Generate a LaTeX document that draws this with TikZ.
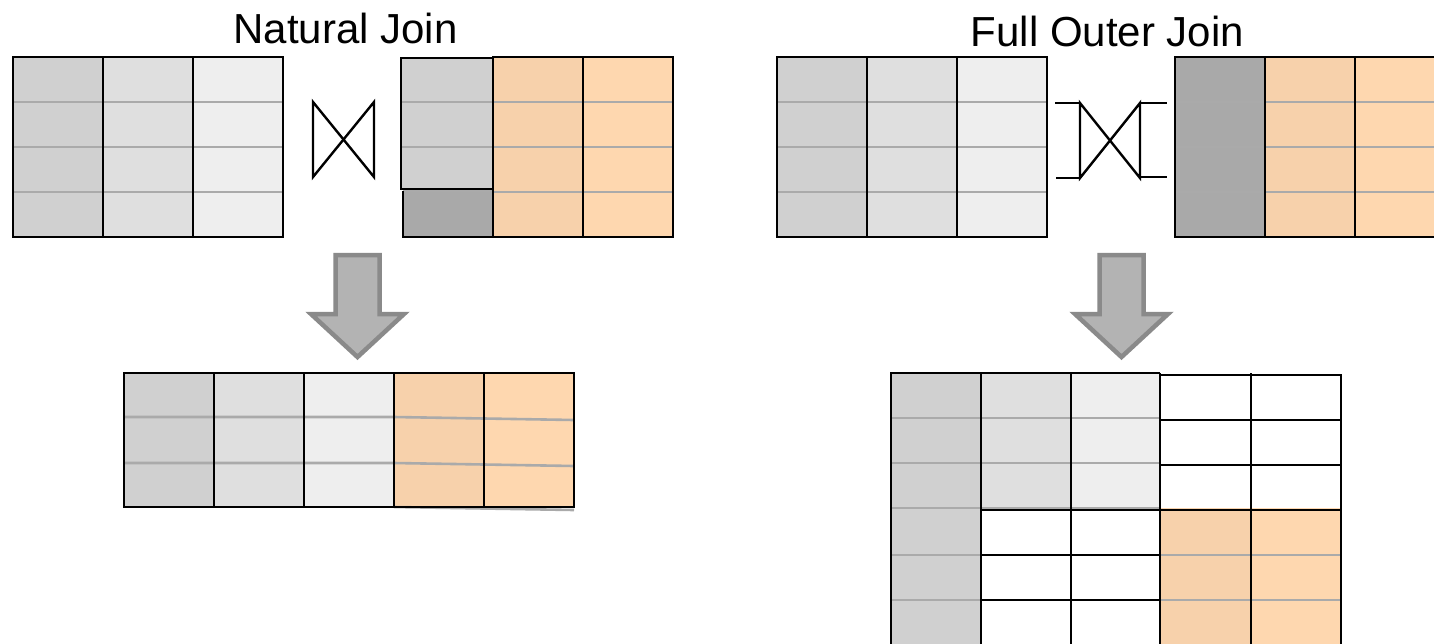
\documentclass[tikz,border=0pt]{standalone}
\usepackage{fontspec}
\setmainfont{Liberation Sans}
\definecolor{gA}{HTML}{D0D0D0}
\definecolor{gB}{HTML}{DFDFDF}
\definecolor{gC}{HTML}{EEEEEE}
\definecolor{gD}{HTML}{A9A9A9}
\definecolor{oA}{HTML}{F7D1AB}
\definecolor{oB}{HTML}{FED7AF}
\definecolor{rowgray}{HTML}{AAAAAA}
\definecolor{arrowfill}{HTML}{B3B3B3}
\definecolor{arrowedge}{HTML}{8A8A8A}
\tikzset{
  rowline/.style={draw=rowgray,line width=2.6pt},
  colline/.style={draw=black,line width=2.4pt},
  bigarrow/.style={fill=arrowfill,draw=arrowedge,line width=4.5pt,line join=miter},
  title/.style={font=\fontsize{42}{50}\selectfont,anchor=base,inner sep=0pt},
  symline/.style={draw=black,line width=2.4pt,line join=miter}
}
\begin{document}
\begin{tikzpicture}[x=1pt,y=-1pt]
\useasboundingbox (0,0) rectangle (1434,643);
\clip (0,0) rectangle (1434,643);
\fill[white] (0,0) rectangle (1434,643);

% titles
\node[title] (t1) at (345.5,43) {Natural Join};
\node[title] (t2) at (1107.5,46) {Full Outer Join};

% ---------- left input table (both panels) ----------
\foreach \dx in {0,764}{
\begin{scope}[shift={(\dx,0)}]
  \fill[gA] (13,57) rectangle (103,237);
  \fill[gB] (103,57) rectangle (193,237);
  \fill[gC] (193,57) rectangle (283,237);
  \foreach \y in {102,147,192} \draw[rowline] (13,\y) -- (283,\y);
  \foreach \x in {103,193} \draw[colline] (\x,57) -- (\x,237);
  \draw[colline] (13,57) rectangle (283,237);
\end{scope}
}

% ---------- natural join symbol ----------
\draw[symline] (313,102) -- (374,177) -- (374,102) -- (313,177) -- cycle;

% ---------- natural join right table ----------
\fill[gA] (401,58) rectangle (493,189);
\fill[gD] (403,190) rectangle (493,237);
\fill[oA] (493,57) rectangle (583,237);
\fill[oB] (583,57) rectangle (673,237);
\foreach \y in {102,147} \draw[rowline] (401,\y) -- (493,\y);
\draw[rowline] (403,191) -- (493,191);
\foreach \y in {102,147,192} \draw[rowline] (493,\y) -- (673,\y);
\draw[colline] (401,58) rectangle (493,189);
\draw[colline] (403,191) -- (403,237) -- (493,237);
\draw[colline] (493,57) rectangle (673,237);
\draw[colline] (583,57) -- (583,237);

% ---------- full outer join symbol ----------
\draw[symline] (1080,103) -- (1140,178) -- (1140,103) -- (1080,178) -- cycle;
\draw[symline] (1055,103) -- (1080,103);
\draw[symline] (1056,178) -- (1080,178);
\draw[symline] (1140,103) -- (1167,103);
\draw[symline] (1140,177) -- (1167,177);

% ---------- full outer join right table ----------
\fill[gD] (1175,57) rectangle (1265,237);
\fill[oA] (1265,57) rectangle (1355,237);
\fill[oB] (1355,57) rectangle (1445,237);
\foreach \y in {102,147,192} \draw[rowline] (1175,\y) -- (1445,\y);
\foreach \x in {1265,1355} \draw[colline] (\x,57) -- (\x,237);
\draw[colline] (1175,57) rectangle (1445,237);

% ---------- arrows ----------
\foreach \dx in {0,764}{
\begin{scope}[shift={(\dx,0)}]
  \draw[bigarrow] (335.5,255) -- (379.5,255) -- (379.5,314) -- (404,314)
     -- (357.5,357) -- (311,314) -- (335.5,314) -- cycle;
\end{scope}
}

% ---------- natural join result ----------
\fill[gA] (124,373) rectangle (214,507);
\fill[gB] (214,373) rectangle (304,507);
\fill[gC] (304,373) rectangle (394,507);
\fill[oA] (394,373) rectangle (484,507);
\fill[oB] (484,373) rectangle (574,507);
\draw[rowline] (124,417) -- (394,417) -- (574,420);
\draw[rowline] (124,463) -- (394,463) -- (574,466);
\draw[rowline] (394,507) -- (574,510);
\foreach \x in {214,304,394,484} \draw[colline] (\x,373) -- (\x,507);
\draw[colline] (124,373) rectangle (574,507);

% ---------- full outer join result ----------
\fill[gA] (891,373) rectangle (981,650);
\fill[gB] (981,373) rectangle (1071,508);
\fill[gC] (1071,373) rectangle (1160,508);
\fill[white] (1160,373) rectangle (1341,508);
\fill[white] (981,508) rectangle (1160,650);
\fill[oA] (1160,508) rectangle (1251,650);
\fill[oB] (1251,508) rectangle (1341,650);
% gray row lines
\foreach \y in {418,463} \draw[rowline] (891,\y) -- (1160,\y);
\draw[rowline] (891,508) -- (1160,508);
\foreach \y in {555,600} \draw[rowline] (891,\y) -- (981,\y);
\foreach \y in {555,600} \draw[rowline] (1160,\y) -- (1341,\y);
% black grid of empty cells
\foreach \y in {420,465} \draw[colline] (1160,\y) -- (1341,\y);
\draw[colline] (1160,510) -- (1341,510);
\draw[colline] (981,510) -- (1160,510);
\foreach \y in {555,600} \draw[colline] (981,\y) -- (1160,\y);
\foreach \x in {981,1071,1160,1251} \draw[colline] (\x,373) -- (\x,650);
\draw[colline] (891,650) -- (891,373) -- (1160,373);
\draw[colline] (1160,375) -- (1341,375) -- (1341,650);
\end{tikzpicture}
\end{document}
